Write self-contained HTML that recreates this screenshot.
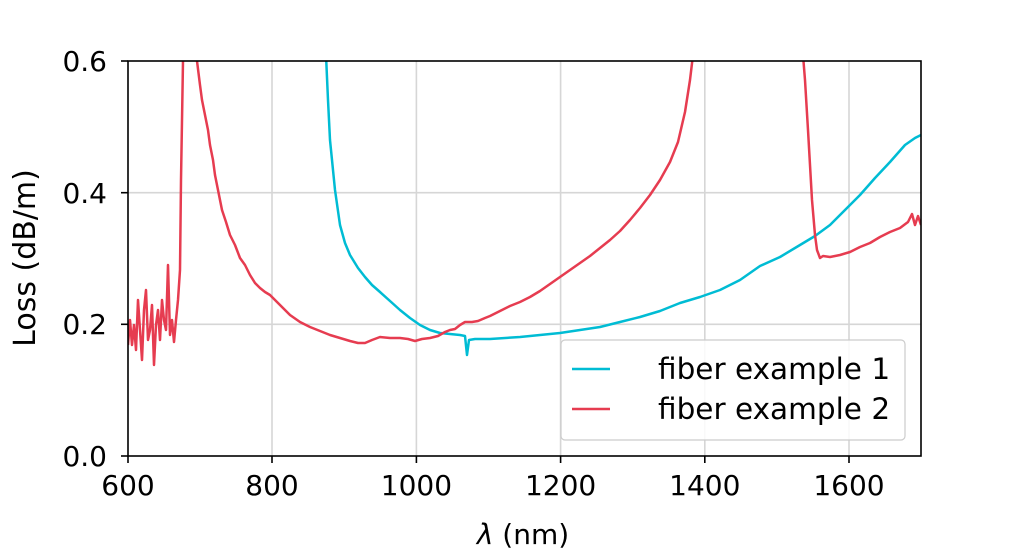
<!DOCTYPE html>
<html><head><style>body{margin:0;background:#fff}svg{display:block}</style></head><body>
<svg width="1024" height="550" xmlns="http://www.w3.org/2000/svg" font-family="DejaVu Sans, Liberation Sans, sans-serif">
<g stroke="#d6d6d6" stroke-width="1.6">
<line x1="272" y1="61" x2="272" y2="456"/><line x1="416.4" y1="61" x2="416.4" y2="456"/><line x1="560.6" y1="61" x2="560.6" y2="456"/><line x1="704.8" y1="61" x2="704.8" y2="456"/><line x1="849" y1="61" x2="849" y2="456"/>
<line x1="128" y1="192.7" x2="921" y2="192.7"/><line x1="128" y1="324.3" x2="921" y2="324.3"/>
</g>
<clipPath id="c"><rect x="128" y="61" width="793" height="395"/></clipPath>
<g clip-path="url(#c)" fill="none" stroke-width="2.5" stroke-linejoin="round">
<polyline stroke="#00bcd4" points="326,55 328,100 330,140 333,170 335,190 340,225 345,243 350,255 358,268 365,277 372,285 380,292 390,301 400,310 410,318 420,325 430,330 440,333 450,334 460,335 465,336 467,355 469,340 475,339 490,339 520,337 540,335 560,333 580,330 600,327 620,322 640,317 660,311 680,303 700,297 720,290 740,280 760,266 780,257 800,245 815,236 830,225 845,210 860,195 875,178 890,162 905,145 915,138 921,135"/>
<polyline stroke="#e63c50" points="128,345 130,320 132,345 134,325 136,350 138,300 140,330 142,360 144,310 146,290 148,340 150,330 152,305 154,365 156,325 158,310 160,340 162,300 164,320 166,330 168,265 170,335 172,320 174,342 176,320 178,300 180,270 181,180 183,61 183,40 196,40 197,61 200,85 202,100 205,115 208,130 210,145 213,160 215,175 218,190 222,210 226,222 230,235 235,245 240,258 245,265 250,275 255,283 260,288 265,292 270,295 275,300 280,305 290,315 300,322 310,327 320,331 330,335 340,338 350,341 358,343 365,343 372,340 380,337 390,338 400,338 408,339 415,341 422,339 430,338 438,336 445,332 450,330 455,329 460,325 465,322 472,322 478,321 485,318 490,316 500,311 510,306 520,302 530,297 540,291 550,284 560,277 570,270 580,263 590,256 600,248 610,240 620,231 630,220 640,208 650,195 660,180 670,162 678,142 685,112 690,80 693,55"/>
<polyline stroke="#e63c50" points="803,55 805,80 808,130 810,165 812,200 815,235 817,250 820,258 823,256 830,257 840,255 850,252 860,247 870,243 880,237 890,232 900,228 908,222 912,214 915,225 918,216 921,225"/>
</g>
<rect x="128" y="61" width="793" height="395" fill="none" stroke="#000" stroke-width="1.6"/>
<g stroke="#000" stroke-width="1.6">
<line x1="128" y1="456" x2="128" y2="463"/><line x1="272" y1="456" x2="272" y2="463"/><line x1="416.4" y1="456" x2="416.4" y2="463"/><line x1="560.6" y1="456" x2="560.6" y2="463"/><line x1="704.8" y1="456" x2="704.8" y2="463"/><line x1="849" y1="456" x2="849" y2="463"/>
<line x1="121" y1="61" x2="128" y2="61"/><line x1="121" y1="192.7" x2="128" y2="192.7"/><line x1="121" y1="324.3" x2="128" y2="324.3"/><line x1="121" y1="456" x2="128" y2="456"/>
</g>
<g font-size="28" fill="#000" text-anchor="middle">
<text x="128" y="495">600</text><text x="272" y="495">800</text><text x="416.4" y="495">1000</text><text x="560.6" y="495">1200</text><text x="704.8" y="495">1400</text><text x="849" y="495">1600</text>
<text x="523" y="544"><tspan font-style="italic">λ</tspan> (nm)</text>
</g>
<g font-size="28" fill="#000" text-anchor="end">
<text x="107" y="71">0.6</text><text x="107" y="203">0.4</text><text x="107" y="334">0.2</text><text x="107" y="466">0.0</text>
</g>
<text transform="translate(35,258) rotate(-90)" font-size="30" text-anchor="middle">Loss (dB/m)</text>
<rect x="561" y="340" width="344" height="100" rx="4" fill="#fff" fill-opacity="0.85" stroke="#ccc" stroke-width="1.2"/>
<line x1="572" y1="369" x2="610" y2="369" stroke="#00bcd4" stroke-width="2.5"/>
<line x1="572" y1="409" x2="610" y2="409" stroke="#e63c50" stroke-width="2.5"/>
<text x="658" y="379" font-size="29.5">fiber example 1</text>
<text x="658" y="419" font-size="29.5">fiber example 2</text>
</svg>
</body></html>
